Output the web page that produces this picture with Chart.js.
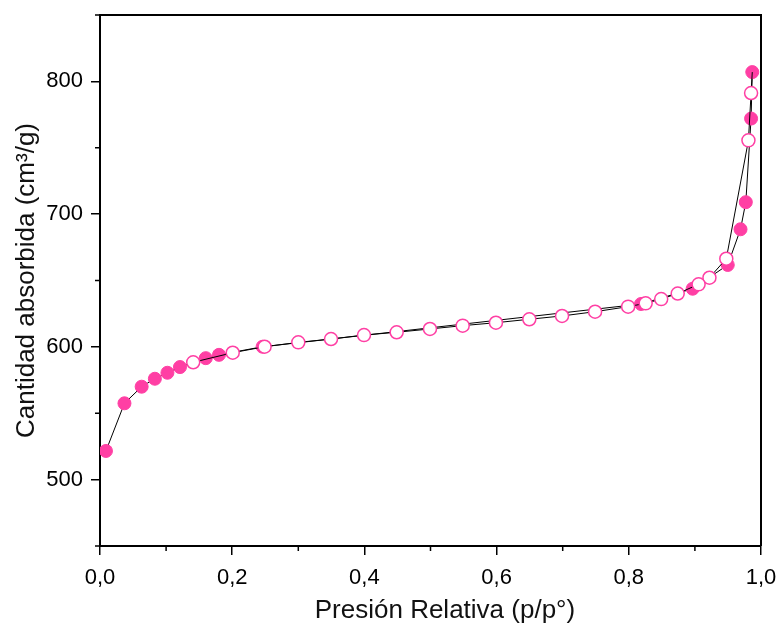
<!DOCTYPE html>
<html>
<head>
<meta charset="utf-8">
<script src="https://cdn.jsdelivr.net/npm/chart.js@4/dist/chart.umd.min.js"></script>
<style>
  html, body { margin: 0; padding: 0; background: #fff; }
  #wrap { width: 776px; height: 629px; }
</style>
</head>
<body>
<div id="wrap"><canvas id="iso"></canvas></div>
<script>
// adsorción (puntos llenos)
const adsP = [0.009, 0.037, 0.063, 0.083, 0.102, 0.121, 0.160, 0.180, 0.246, 0.8185, 0.8966, 0.9497, 0.969, 0.977, 0.985, 0.9868];
const adsV = [521.6, 557.5, 570.0, 576.0, 580.5, 584.8, 591.5, 594.0, 600.1, 632.3, 643.8, 661.7, 688.6, 709.0, 772.0, 807.0];

// desorción (puntos vacíos), empieza en el último punto de adsorción
const desP = [0.9868, 0.985, 0.981, 0.9475, 0.922, 0.9056, 0.874, 0.849, 0.8255, 0.799, 0.749, 0.699, 0.6495, 0.599, 0.5487, 0.4992, 0.4488, 0.3994, 0.3495, 0.300, 0.249, 0.2008, 0.141];
const desV = [807.0, 791.2, 755.6, 666.4, 652.1, 647.1, 640.2, 636.0, 632.8, 630.3, 626.5, 623.3, 620.8, 618.2, 616.0, 613.5, 611.0, 608.9, 605.9, 603.4, 600.1, 595.6, 588.4];

const xTicks = ["0,0", "0,2", "0,4", "0,6", "0,8", "1,0"];
const yTicks = [500, 600, 700, 800];

const pink = "#ff3fa4";
const FONT = "'Liberation Sans', Arial, sans-serif";

const toXY = (xs, ys) => xs.map((x, i) => ({ x: x, y: ys[i] }));
const xMajor = (v) => Math.round(v * 10) % 2 === 0;
const yMajor = (v) => yTicks.includes(v);

// marco superior/derecho + ticks menores (más cortos)
const boxPlugin = {
  id: "box",
  afterDraw(chart) {
    const a = chart.chartArea;
    const c = chart.ctx;
    const sx = chart.scales.x;
    const sy = chart.scales.y;
    c.save();
    c.strokeStyle = "#000";
    c.lineWidth = 2;
    c.beginPath();
    c.moveTo(a.left, a.top);
    c.lineTo(a.right, a.top);
    c.lineTo(a.right, a.bottom);
    c.stroke();
    c.lineWidth = 1.5;
    c.beginPath();
    sx.ticks.forEach((t) => {
      if (xMajor(t.value)) return;
      const px = sx.getPixelForValue(t.value);
      c.moveTo(px, a.bottom);
      c.lineTo(px, a.bottom + 5);
    });
    sy.ticks.forEach((t) => {
      if (yMajor(t.value)) return;
      const py = sy.getPixelForValue(t.value);
      c.moveTo(a.left, py);
      c.lineTo(a.left - 5, py);
    });
    c.stroke();
    c.restore();
  },
};

new Chart(document.getElementById("iso"), {
  type: "line",
  data: {
    datasets: [
      {
        label: "Desorción",
        data: toXY(desP, desV),
        borderColor: "#000",
        borderWidth: 1,
        pointBackgroundColor: "#fff",
        pointBorderColor: pink,
        pointBorderWidth: 1.5,
        pointRadius: (ctx) => (ctx.dataIndex === 0 ? 0 : 6.5),
        tension: 0,
      },
      {
        label: "Adsorción",
        data: toXY(adsP, adsV),
        borderColor: "#000",
        borderWidth: 1,
        pointBackgroundColor: pink,
        pointBorderColor: pink,
        pointBorderWidth: 1,
        pointRadius: 6.5,
        tension: 0,
      },
    ],
  },
  options: {
    responsive: true,
    maintainAspectRatio: false,
    animation: false,
    layout: { padding: { top: 15, right: 15, left: 0, bottom: 0 } },
    plugins: { legend: { display: false }, tooltip: { enabled: false } },
    scales: {
      x: {
        type: "linear",
        min: 0,
        max: 1,
        afterFit: (s) => { s.height = 83; s.paddingLeft = 0; s.paddingRight = 0; },
        ticks: {
          stepSize: 0.1,
          color: "#000",
          font: { family: FONT, size: 22 },
          padding: 10,
          maxRotation: 0,
          autoSkip: false,
          callback: (v) => (xMajor(v) ? xTicks[Math.round(v * 10) / 2] : ""),
        },
        grid: {
          drawOnChartArea: false,
          tickLength: 9,
          lineWidth: 1.5,
          tickColor: (ctx) => (ctx.tick && xMajor(ctx.tick.value) ? "#000" : "rgba(0,0,0,0)"),
        },
        border: { color: "#000", width: 2 },
        title: {
          display: true,
          text: "    Presión Relativa (p/p°)",
          color: "#111",
          font: { family: FONT, size: 26 },
          padding: { top: 0, bottom: 3 },
        },
      },
      y: {
        min: 450,
        max: 850,
        afterFit: (s) => { s.width = 100; s.paddingTop = 0; s.paddingBottom = 0; },
        ticks: {
          stepSize: 50,
          color: "#000",
          font: { family: FONT, size: 22 },
          padding: 8,
          autoSkip: false,
          callback: (v) => (yMajor(v) ? String(v) : ""),
        },
        grid: {
          drawOnChartArea: false,
          tickLength: 9,
          lineWidth: 1.5,
          tickColor: (ctx) => (ctx.tick && yMajor(ctx.tick.value) ? "#000" : "rgba(0,0,0,0)"),
        },
        border: { color: "#000", width: 2 },
        title: {
          display: true,
          text: "Cantidad absorbida (cm³/g)",
          color: "#111",
          font: { family: FONT, size: 26 },
          padding: { top: 11, bottom: 0 },
        },
      },
    },
  },
  plugins: [boxPlugin],
});
</script>
</body>
</html>
